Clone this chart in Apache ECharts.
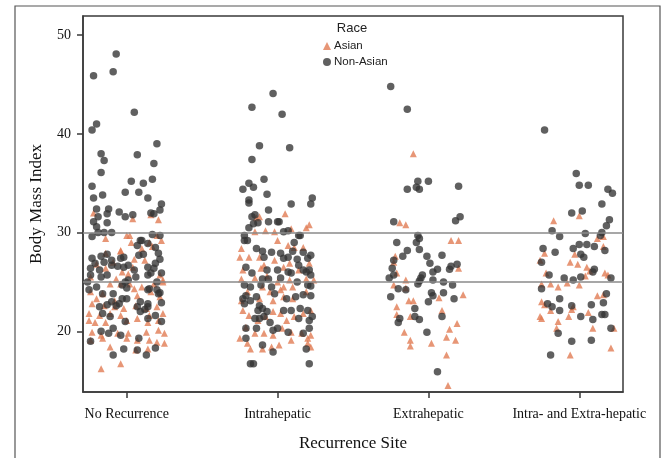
<!DOCTYPE html>
<html>
<head>
<meta charset="utf-8">
<script src="https://cdn.jsdelivr.net/npm/echarts@6/dist/echarts.min.js"></script>
<style>
html,body{margin:0;padding:0;background:#fff;}
#chart{width:662px;height:458px;}
</style>
</head>
<body>
<div id="chart"></div>
<script>
// Categories (x axis) and tick labels
const categories = ["No Recurrence", "Intrahepatic", "Extrahepatic", "Intra- and Extra-hepatic"];
const yTickValues = [20, 30, 40, 50];
const referenceLines = [25, 30];
const raceGroups = ["Asian", "Non-Asian"];

// Each point: [horizontal jitter within category, BMI]
const noRecNonAsian = [
  [-0.07,48.1],[-0.09,46.3],[-0.22,45.9],[0.05,42.2],[-0.20,41.0],[-0.23,40.4],[0.20,39.0],[-0.17,38.0],[0.07,37.9],
  [-0.15,37.3],[0.18,37.0],[-0.17,36.1],[-0.23,34.7],[0.03,35.2],[0.11,35.0],[0.17,35.4],[-0.01,34.1],[0.08,34.1],
  [-0.16,33.8],[-0.22,33.5],[0.14,33.5],[0.23,32.9],[-0.20,32.4],[-0.12,32.4],[-0.05,32.1],[0.22,32.3],[0.16,32.0],
  [0.18,31.9],[-0.13,31.9],[-0.19,31.6],[-0.01,31.6],[0.04,31.8],[-0.22,31.1],[-0.13,31.0],[-0.20,30.6],[-0.19,30.0],
  [-0.10,30.0],[-0.15,30.0],[-0.23,29.6],[0.10,29.2],[0.17,29.8],[0.22,29.7],
  [0.09,29.2],[0.14,28.9],[0.19,28.5],[0.07,28.7],[-0.17,27.6],[-0.13,27.8],[-0.23,27.4],[0.08,27.7],[0.11,27.8],
  [0.21,27.9],[0.22,27.3],[-0.02,27.5],[-0.04,27.4],[-0.10,27.2],[-0.21,26.9],[-0.15,27.0],[-0.10,26.7],[-0.06,26.6],
  [-0.02,26.5],[0.01,26.7],[0.05,26.2],[0.14,26.5],[0.18,26.4],[0.19,26.9],[-0.24,26.4],[-0.18,26.2],[-0.24,25.7],
  [-0.17,25.5],[-0.13,25.7],[0.06,25.5],[0.14,25.7],[0.16,25.9],[0.23,25.9],[-0.26,25.0],[-0.01,25.0],[0.01,25.2],
  [0.20,25.0],[-0.25,24.2],[-0.20,24.5],[-0.03,24.7],[0.00,24.4],[-0.09,23.8],[0.14,24.2],[0.15,24.3],[0.20,24.2],
  [0.22,23.9],[-0.16,23.8],[-0.03,23.3],[0.00,23.3],[-0.10,23.0],[-0.05,22.8],[0.09,23.0],[0.14,22.8],[0.07,22.5],
  [0.21,23.8],[0.23,22.9],[-0.18,22.5],[-0.13,22.7],[-0.07,22.6],[0.14,22.5],[0.12,22.2],[0.09,22.0],[-0.16,21.8],
  [-0.11,21.5],[-0.01,21.0],[0.19,21.6],[0.23,21.0],[0.14,21.3],[-0.09,20.3],[-0.17,20.0],[-0.12,19.8],[-0.04,19.6],
  [0.08,19.3],[-0.24,19.0],[0.19,18.3],[-0.02,18.2],[0.07,18.1],[-0.09,17.6],[0.13,17.6]
];
const noRecAsian = [
  [-0.22,32.0],[0.04,31.4],[0.16,31.8],[0.21,31.3],[-0.14,29.4],[0.23,29.2],[0.00,29.7],[0.02,29.7],[0.20,29.7],
  [-0.04,28.2],[0.03,29.0],[0.15,29.0],[0.10,28.4],[-0.04,28.1],[-0.14,27.9],[0.05,27.3],[-0.03,26.0],[-0.14,26.4],
  [0.22,25.7],[-0.24,25.5],[-0.11,24.8],[-0.04,24.8],[0.02,24.8],[0.18,24.8],[0.24,25.0],[-0.24,24.0],[-0.16,23.8],
  [-0.08,23.1],[0.07,23.6],[0.16,24.0],[0.22,23.5],[-0.23,22.8],[-0.15,22.6],[-0.08,22.5],[-0.02,22.3],[0.06,22.6],
  [0.13,22.3],[0.20,22.5],[-0.25,21.8],[-0.18,21.6],[-0.11,21.8],[-0.04,21.6],[0.15,21.6],[0.24,21.8],[-0.25,21.1],
  [-0.21,20.9],[-0.14,20.9],[0.00,21.1],[0.07,21.3],[0.14,20.9],[0.21,21.1],[-0.23,19.9],[-0.17,19.6],[-0.06,19.8],
  [0.01,19.8],[0.13,19.9],[0.21,20.1],[0.25,19.8],[-0.24,19.1],[-0.16,19.3],[0.00,19.3],[0.07,19.1],[0.15,19.1],
  [0.20,18.9],[-0.11,18.4],[0.06,18.1],[0.14,18.2],[0.25,18.8],[-0.04,16.7],[-0.17,16.2],
  [-0.20,26.8],[0.12,27.2],[0.04,26.5],[-0.07,25.3],[0.10,24.5],[0.01,25.8],[-0.09,27.0],[0.17,28.6],[0.24,25.2],
  [-0.20,23.3],[0.05,24.3]
];
const intraNonAsian = [
  [-0.03,44.1],[-0.17,42.7],[0.03,42.0],[-0.12,38.8],[0.08,38.6],[-0.17,37.4],[-0.09,35.4],[-0.19,35.0],[-0.16,34.6],
  [-0.23,34.4],[-0.07,33.9],[0.23,33.5],[-0.19,33.3],[-0.19,33.0],[0.09,32.9],[0.22,32.9],[-0.06,32.3],[-0.15,31.8],
  [-0.16,30.9],[-0.13,31.0],[0.01,31.1],[-0.19,30.5],[0.07,30.2],[0.15,29.7],[-0.22,29.2],
  [-0.17,31.6],[-0.06,31.1],[0.00,31.1],[0.04,30.1],[0.14,29.7],[-0.22,29.7],[-0.20,29.2],[0.11,29.0],[-0.14,28.4],
  [-0.10,28.1],[-0.04,28.0],[0.02,27.9],[0.10,28.1],[0.17,28.0],[-0.09,27.5],[0.04,27.4],[0.07,27.5],[0.13,27.3],
  [0.22,27.7],[0.20,27.4],[0.14,26.7],[-0.21,26.5],[-0.17,25.9],[-0.07,26.2],[0.00,26.2],[0.07,26.0],[0.09,25.9],
  [0.17,26.2],[0.19,26.0],[0.21,26.2],[0.22,25.7],[-0.06,25.3],[-0.10,25.3],[0.02,25.4],[-0.11,24.7],[-0.04,24.5],
  [-0.22,24.7],[-0.18,24.5],[0.13,25.0],[0.20,24.7],[0.22,24.6],[-0.02,23.8],[-0.21,23.6],[-0.14,23.5],[0.12,23.5],
  [0.17,23.7],[0.22,23.6],[-0.23,23.3],
  [-0.18,23.1],[-0.12,22.6],[-0.22,22.8],[-0.10,22.3],[-0.13,22.1],[-0.07,22.0],[-0.12,21.3],[-0.09,21.5],[-0.15,21.3],
  [-0.05,20.9],[0.04,22.1],[0.09,22.1],[0.15,22.3],[0.20,22.1],[0.06,23.3],[0.14,21.3],[0.21,21.1],[0.23,21.5],
  [0.07,19.9],[0.00,20.3],[-0.03,20.1],[-0.14,20.3],[-0.21,20.3],[-0.21,19.3],[-0.10,18.6],[-0.03,17.9],[0.17,19.8],
  [0.19,18.2],[0.21,20.3],[-0.18,16.7],[-0.16,16.7],[0.21,16.7]
];
const intraAsian = [
  [-0.12,31.6],[0.19,30.5],[-0.15,30.1],[-0.08,30.2],[-0.02,30.1],[0.09,30.4],[0.00,29.2],[0.11,28.5],[-0.24,28.4],
  [0.17,28.5],[0.07,28.7],[-0.25,27.5],[-0.19,27.5],[-0.12,27.5],[-0.02,27.2],[0.08,26.9],[0.21,26.9],[-0.09,26.7],
  [-0.23,26.2],[-0.11,26.4],[0.04,26.5],[0.14,26.2],[-0.24,25.3],[-0.15,25.4],[-0.07,25.6],[0.00,25.0],[0.08,25.2],
  [0.19,25.3],[0.24,25.2],[-0.10,24.5],[0.04,24.5],[0.10,24.5],[-0.20,24.0],[-0.05,24.0],[0.02,24.2],[0.19,24.0],
  [-0.12,23.3],[0.04,23.5],[-0.03,23.1],[0.10,23.3],
  [-0.24,23.1],[-0.23,22.1],[-0.19,21.6],[-0.13,21.1],[-0.08,21.5],[-0.03,22.0],[0.02,21.8],[0.06,21.1],[0.11,21.5],
  [0.17,21.8],[0.22,22.1],[-0.21,20.4],[-0.15,19.8],[-0.09,19.8],[-0.03,19.6],[0.03,20.3],[0.09,19.9],[0.16,19.8],
  [0.20,19.3],[0.22,19.6],[-0.25,19.3],[-0.20,18.8],[-0.18,18.2],[-0.10,18.2],[-0.04,18.4],[0.01,18.6],[0.09,19.1],
  [0.20,18.8],[0.22,18.4],[0.05,31.9],[-0.14,31.5],[0.21,30.8]
];
const extraNonAsian = [
  [-0.25,44.8],[-0.14,42.5],[-0.07,35.2],[0.00,35.2],[-0.14,34.4],[-0.08,34.6],[-0.06,34.4],[0.20,34.7],[-0.23,31.1],
  [0.18,31.2],[0.21,31.6],[-0.07,29.7],[-0.08,29.0],[-0.06,29.4],[-0.21,29.0],[-0.14,28.2],[-0.06,28.3],[-0.17,27.6],
  [-0.01,27.6],[0.09,27.7],[-0.23,27.2],[0.01,26.9],[-0.24,26.4],[0.19,26.8],[0.15,26.6],[0.14,26.3],[0.06,26.3],
  [0.03,26.0],[-0.23,25.7],[-0.26,25.4],[-0.04,25.7],[-0.05,25.4],[-0.06,25.1],[-0.07,24.8],[0.03,25.2],[0.10,25.0],
  [0.16,24.7],[-0.20,24.3],[-0.15,24.2],[0.02,23.9],[0.03,23.6],[0.10,23.9],[-0.25,23.5],[0.00,23.0],[0.17,23.3],
  [-0.09,22.3],[-0.09,21.5],[-0.06,21.2],[-0.19,21.3],[-0.20,20.9],[0.09,21.5],[-0.01,19.9],[0.06,15.9]
];
const extraAsian = [
  [-0.10,38.0],[-0.19,31.0],[-0.15,30.8],[0.15,29.2],[0.20,29.2],[-0.22,27.6],[-0.23,27.0],[-0.21,25.9],[-0.15,25.2],
  [-0.23,24.7],[-0.15,24.4],[0.20,26.4],[0.23,23.7],[0.07,23.4],[-0.13,23.1],[-0.10,23.1],[-0.21,22.5],[0.09,22.1],
  [-0.21,21.7],[-0.12,21.5],[0.19,20.8],[0.14,20.2],[-0.16,19.9],[0.12,19.4],[0.18,19.1],[-0.12,19.1],[-0.12,18.5],
  [0.02,18.8],[0.12,17.6],[0.13,14.5]
];
const bothNonAsian = [
  [-0.23,40.4],[-0.02,36.0],[0.00,34.8],[0.06,34.8],[0.19,34.4],[0.22,34.0],[0.15,32.9],[-0.05,32.0],[0.02,32.2],
  [0.20,31.3],[0.18,30.7],[-0.18,30.2],[-0.13,29.6],[0.04,29.9],[0.14,29.7],[0.15,30.0],[-0.24,28.4],[-0.16,28.0],
  [-0.04,28.4],[0.00,28.8],[0.05,28.8],[0.10,28.6],[0.17,28.2],[-0.25,27.0],[0.01,27.8],[0.03,27.5],[0.10,26.3],
  [0.09,26.0],[-0.20,25.7],[-0.10,25.4],[-0.04,25.2],[0.01,25.5],[0.21,25.4],[-0.25,24.3],[0.18,23.8],[-0.13,23.3],
  [-0.21,22.8],[-0.18,22.5],[-0.05,22.6],[0.08,22.7],[0.16,22.9],[-0.13,22.1],[0.01,21.5],[0.09,21.2],[0.15,21.7],
  [0.17,21.7],[-0.14,19.8],[0.21,20.3],[-0.05,19.0],[0.08,19.1],[-0.19,17.6]
];
const bothAsian = [
  [-0.17,31.2],[0.00,31.7],[0.12,29.4],[0.16,29.6],[0.16,28.6],[-0.23,27.9],[-0.03,27.8],[-0.26,27.2],[-0.06,27.0],
  [-0.01,26.8],[0.05,26.5],[0.07,26.1],[0.17,25.9],[0.19,25.7],[-0.22,25.9],[0.04,25.6],[-0.19,24.8],[-0.14,24.5],
  [-0.08,24.9],[0.00,24.7],[-0.25,24.8],[0.12,23.6],[0.16,23.7],[-0.25,23.0],[-0.23,22.7],[-0.19,22.1],[-0.05,22.2],
  [-0.04,22.5],[0.06,21.9],[-0.07,21.5],[-0.26,21.5],[-0.25,21.3],[-0.14,21.0],[-0.15,20.3],[0.09,20.3],[0.23,20.3],
  [0.21,18.3],[-0.06,17.6]
];

const asianByCategory = [noRecAsian, intraAsian, extraAsian, bothAsian];
const nonAsianByCategory = [noRecNonAsian, intraNonAsian, extraNonAsian, bothNonAsian];

function place(groups) {
  const out = [];
  groups.forEach((pts, ci) => pts.forEach(p => out.push([ci + p[0], p[1]])));
  return out;
}

const serif = "'Liberation Serif', 'DejaVu Serif', serif";
const sans = "'Liberation Sans', Arial, sans-serif";

const chart = echarts.init(document.getElementById('chart'), null, {renderer: 'canvas'});
chart.setOption({
  animation: false,
  backgroundColor: '#ffffff',
  grid: {
    left: 83, right: 39, top: 16, bottom: 66,
    show: true, borderColor: '#3a3a3a', borderWidth: 1.5, backgroundColor: 'transparent'
  },
  graphic: [
    {type: 'rect', shape: {x: 15, y: 6, width: 645, height: 470}, style: {fill: 'none', stroke: '#555', lineWidth: 1.2}, silent: true},
    {type: 'text', x: 352, y: 28, style: {text: 'Race', font: '13px ' + sans, fill: '#222', textAlign: 'center', textVerticalAlign: 'middle'}}
  ],
  legend: {
    orient: 'vertical', left: 318, top: 35, itemWidth: 8, itemHeight: 8, itemGap: 4,
    textStyle: {fontFamily: sans, fontSize: 11.5, color: '#222', padding: [0,0,0,-2]},
    data: [
      {name: raceGroups[0], icon: 'triangle'},
      {name: raceGroups[1], icon: 'circle'}
    ]
  },
  xAxis: {
    type: 'value', min: -0.29, max: 3.29,
    splitLine: {show: false},
    axisLine: {show: true, onZero: false, lineStyle: {color: '#3a3a3a', width: 1.5}},
    axisTick: {show: true, customValues: [0,1,2,3], length: 6, lineStyle: {color: '#3a3a3a', width: 1.5}},
    axisLabel: {customValues: [0,1,2,3], formatter: v => categories[Math.round(v)], fontFamily: serif, fontSize: 14, color: '#111', margin: 15},
    name: 'Recurrence Site', nameLocation: 'middle', nameGap: 43,
    nameTextStyle: {fontFamily: serif, fontSize: 17, color: '#111'}
  },
  yAxis: {
    type: 'value', min: 13.85, max: 51.95,
    splitLine: {show: false},
    axisLine: {show: true, onZero: false, lineStyle: {color: '#3a3a3a', width: 1.5}},
    axisTick: {show: true, customValues: yTickValues, length: 6, lineStyle: {color: '#3a3a3a', width: 1.5}},
    axisLabel: {customValues: yTickValues, fontFamily: serif, fontSize: 14, color: '#111', margin: 12},
    name: 'Body Mass Index', nameLocation: 'middle', nameGap: 38, nameRotate: 90,
    nameTextStyle: {fontFamily: serif, fontSize: 17, color: '#111'}
  },
  series: [
    {
      name: raceGroups[0], type: 'scatter', symbol: 'triangle', symbolSize: 7,
      itemStyle: {color: '#E0784F', opacity: 0.78},
      data: place(asianByCategory),
      markLine: {
        silent: true, symbol: 'none', label: {show: false},
        lineStyle: {color: '#8a8a8a', width: 1.5, type: 'solid'},
        data: referenceLines.map(v => ({yAxis: v}))
      },
      z: 2
    },
    {
      name: raceGroups[1], type: 'scatter', symbol: 'circle', symbolSize: 7.5,
      itemStyle: {color: '#333333', opacity: 0.78},
      data: place(nonAsianByCategory),
      z: 3
    }
  ]
});
</script>
</body>
</html>
